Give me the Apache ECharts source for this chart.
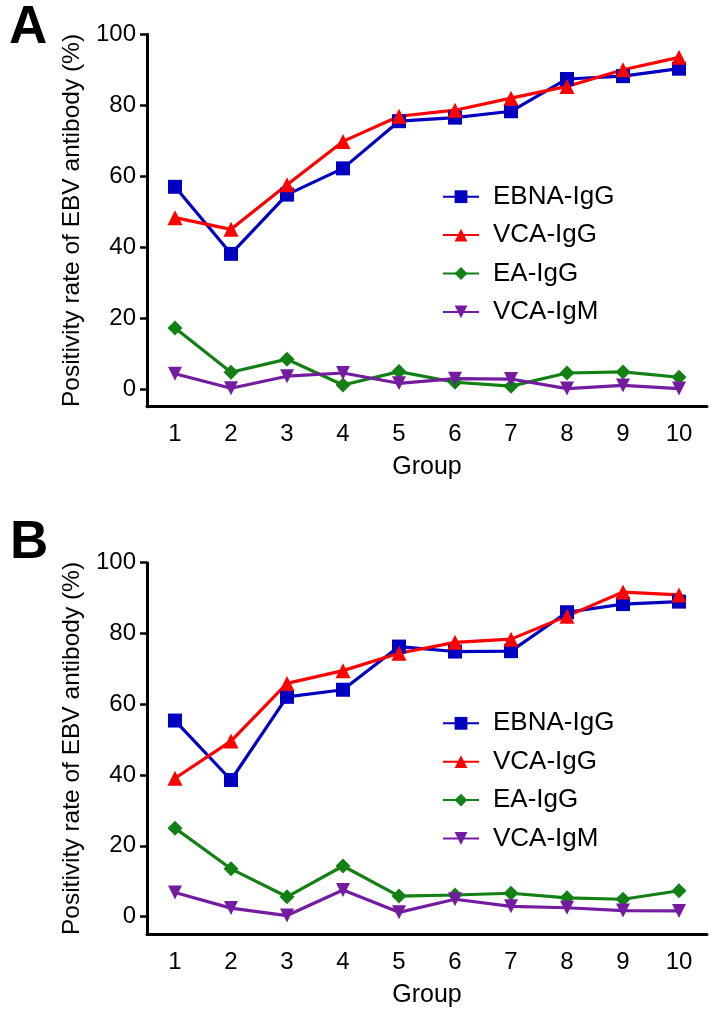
<!DOCTYPE html>
<html>
<head>
<meta charset="utf-8">
<script src="https://cdn.jsdelivr.net/npm/echarts@6/dist/echarts.min.js"></script>
<style>
html,body{margin:0;padding:0;background:#fff;}
#chart{width:716px;height:1015px;}
</style>
</head>
<body>
<div id="chart"></div>
<script>
const groups = ['1','2','3','4','5','6','7','8','9','10'];
const yTicks = [0, 20, 40, 60, 80, 100];
const seriesNames = ['EBNA-IgG', 'VCA-IgG', 'EA-IgG', 'VCA-IgM'];

// Panel A
const A_EBNA_IgG = [57, 38.1, 54.8, 62.2, 75.5, 76.5, 78.3, 87.4, 88.2, 90.3];
const A_VCA_IgG  = [48.3, 45, 57.6, 69.8, 76.9, 78.6, 82, 85.3, 90, 93.5];
const A_EA_IgG   = [17.2, 4.7, 8.4, 1.1, 4.9, 1.9, 0.8, 4.5, 4.8, 3.3];
const A_VCA_IgM  = [4.3, 0.2, 3.6, 4.5, 1.6, 2.9, 2.8, 0.1, 1.0, 0.1];

// Panel B
const B_EBNA_IgG = [55.4, 38.6, 62.1, 64.1, 76.3, 74.9, 75.0, 86.0, 88.3, 89.0];
const B_VCA_IgG  = [39.1, 49.6, 65.9, 69.5, 74.4, 77.5, 78.4, 84.9, 91.7, 90.9];
const B_EA_IgG   = [25.0, 13.5, 5.6, 14.3, 5.8, 6.1, 6.6, 5.3, 4.9, 7.3];
const B_VCA_IgM  = [6.8, 2.4, 0.3, 7.5, 1.2, 4.9, 2.9, 2.5, 1.7, 1.6];

const colors = ['#0000C0', '#FF0000', '#138013', '#741CA0'];
const symbols = ['rect', 'triangle', 'diamond', 'path://M0,0 L10,0 L5,10 Z'];
const symSizes = [14, 15, 15, 14];
const FONT = 'Liberation Sans, Arial, sans-serif';

const chart = echarts.init(document.getElementById('chart'), null, {renderer: 'canvas'});

function makeX(gi) {
  return {
    type: 'category', gridIndex: gi, data: groups, boundaryGap: true,
    name: 'Group', nameLocation: 'middle', nameGap: 48,
    nameTextStyle: {fontSize: 25, color: '#000', fontFamily: FONT},
    axisLine: {onZero: false, lineStyle: {color: '#000', width: 3}},
    axisTick: {alignWithLabel: true, length: 6, lineStyle: {color: '#000', width: 2.5}},
    axisLabel: {fontSize: 24, color: '#000', fontFamily: FONT, margin: 16, interval: 0},
    splitLine: {show: false}
  };
}
function makeY(gi) {
  return {
    type: 'value', gridIndex: gi, min: -5, max: 100,
    name: 'Positivity rate of EBV antibody (%)', nameLocation: 'middle', nameGap: 58,
    nameTextStyle: {fontSize: 24.5, color: '#000', fontFamily: FONT},
    axisLine: {show: true, lineStyle: {color: '#000', width: 3}},
    axisTick: {show: true, length: 7, customValues: yTicks, lineStyle: {color: '#000', width: 2.5}},
    axisLabel: {fontSize: 24, color: '#000', fontFamily: FONT, margin: 11, customValues: yTicks},
    splitLine: {show: false}
  };
}

const dataSets = [
  [A_EBNA_IgG, A_VCA_IgG, A_EA_IgG, A_VCA_IgM],
  [B_EBNA_IgG, B_VCA_IgG, B_EA_IgG, B_VCA_IgM]
];
const series = [];
dataSets.forEach((set, gi) => {
  set.forEach((vals, si) => {
    series.push({
      type: 'line', name: seriesNames[si], xAxisIndex: gi, yAxisIndex: gi,
      data: vals, symbol: symbols[si], symbolSize: symSizes[si],
      lineStyle: {color: colors[si], width: 3.2},
      itemStyle: {color: colors[si]},
      animation: false
    });
  });
});

function makeLegend(top) {
  return {
    orient: 'vertical', left: 437, top: top, data: seriesNames,
    itemWidth: 36, itemHeight: 16, itemGap: 12.4, selectedMode: false,
    textStyle: {fontSize: 26, lineHeight: 26, color: '#000', fontFamily: FONT, padding: [0, 0, 0, 9]}
  };
}

chart.setOption({
  backgroundColor: '#fff',
  animation: false,
  title: [
    {text: 'A', left: 4, top: -3, textStyle: {fontSize: 53, fontWeight: 'bold', color: '#000', fontFamily: FONT}},
    {text: 'B', left: 5, top: 512, textStyle: {fontSize: 53, fontWeight: 'bold', color: '#000', fontFamily: FONT}}
  ],
  grid: [
    {left: 147, right: 9, top: 34.3, height: 372.4},
    {left: 147, right: 9, top: 562.7, height: 371.6}
  ],
  legend: [makeLegend(178.7), makeLegend(705.3)],
  xAxis: [makeX(0), makeX(1)],
  yAxis: [makeY(0), makeY(1)],
  series: series
});
</script>
</body>
</html>
